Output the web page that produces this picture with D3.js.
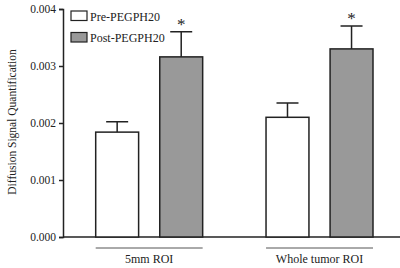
<!DOCTYPE html>
<html>
<head>
<meta charset="utf-8">
<script src="https://cdn.jsdelivr.net/npm/d3@7"></script>
<style>
  body { margin: 0; background: #fff; }
  svg text { font-family: "Liberation Serif", "DejaVu Serif", serif; fill: #222; }
</style>
</head>
<body>
<svg id="drawing_region"></svg>
<script>
const groups = ["5mm ROI", "Whole tumor ROI"];
const seriesNames = ["Pre-PEGPH20", "Post-PEGPH20"];
const preValues = [0.00184, 0.00210];
const preErrors = [0.00018, 0.00025];
const postValues = [0.00316, 0.00330];
const postErrors = [0.00044, 0.00040];
const significant = [true, true];
const yTicks = [0.000, 0.001, 0.002, 0.003, 0.004];

const config = {
    width: 400,
    height: 268,
    margin: {top: 9, right: 0, bottom: 31, left: 63}
};

const svg = d3.select('#drawing_region')
    .attr('width', config.width)
    .attr('height', config.height);

const inner_height = config.height - config.margin.top - config.margin.bottom;

const chart = svg.append('g')
    .attr('transform', `translate(${config.margin.left}, ${config.margin.top})`);

const yscale = d3.scaleLinear()
    .domain([0, 0.004])
    .range([inner_height, 0]);

// group band positions, then series inside each group
const xgroup = d3.scaleBand()
    .domain(groups)
    .range([32.7, 310])
    .paddingInner(0.372)
    .paddingOuter(0);

const xseries = d3.scaleBand()
    .domain(seriesNames)
    .range([0, xgroup.bandwidth()])
    .paddingInner(0.33);

const colors = d3.scaleOrdinal()
    .domain(seriesNames)
    .range(["#ffffff", "#999999"]);

const data = [];
groups.forEach((g, i) => {
    data.push({group: g, series: seriesNames[0], value: preValues[i], err: preErrors[i], star: false});
    data.push({group: g, series: seriesNames[1], value: postValues[i], err: postErrors[i], star: significant[i]});
});

// y axis
const yaxis = d3.axisLeft(yscale)
    .tickValues(yTicks)
    .tickFormat(d3.format('.3f'))
    .tickSize(4)
    .tickPadding(3);

const yaxis_group = chart.append('g').call(yaxis);
yaxis_group.select('.domain').attr('stroke', '#222').attr('stroke-width', 1.5);
yaxis_group.selectAll('.tick line').attr('stroke', '#222').attr('stroke-width', 1.5);
yaxis_group.selectAll('.tick text')
    .style('font-family', '"Liberation Serif", serif')
    .style('font-size', '11.5px')
    .attr('fill', '#333');

// baseline
chart.append('line')
    .attr('x1', 0).attr('x2', config.width - config.margin.left)
    .attr('y1', yscale(0)).attr('y2', yscale(0))
    .attr('stroke', '#222').attr('stroke-width', 1.5);

const bx = d => xgroup(d.group) + xseries(d.series);

// error bars
chart.selectAll('.err')
    .data(data)
    .enter()
    .append('path')
    .attr('class', 'err')
    .attr('d', d => {
        const cx = bx(d) + xseries.bandwidth() / 2;
        const w = 11;
        return `M${cx},${yscale(d.value)}V${yscale(d.value + d.err)}M${cx - w},${yscale(d.value + d.err)}H${cx + w}`;
    })
    .attr('fill', 'none')
    .attr('stroke', '#222')
    .attr('stroke-width', 1.5);

// bars
chart.selectAll('.bar')
    .data(data)
    .enter()
    .append('rect')
    .attr('class', 'bar')
    .attr('x', d => bx(d))
    .attr('y', d => yscale(d.value))
    .attr('width', xseries.bandwidth())
    .attr('height', d => yscale(0) - yscale(d.value))
    .attr('fill', d => colors(d.series))
    .attr('stroke', '#222')
    .attr('stroke-width', 1.5);

// significance stars
chart.selectAll('.star')
    .data(data.filter(d => d.star))
    .enter()
    .append('text')
    .attr('class', 'star')
    .attr('text-anchor', 'middle')
    .attr('x', d => bx(d) + xseries.bandwidth() / 2)
    .attr('y', d => yscale(d.value + d.err) - 2)
    .style('font-size', '17px')
    .text('*');

// group brackets and labels
const bracketY = yscale(0) + 11;
groups.forEach(g => {
    chart.append('line')
        .attr('x1', xgroup(g)).attr('x2', xgroup(g) + xgroup.bandwidth())
        .attr('y1', bracketY).attr('y2', bracketY)
        .attr('stroke', '#555').attr('stroke-width', 1);
    chart.append('text')
        .attr('text-anchor', 'middle')
        .attr('x', xgroup(g) + xgroup.bandwidth() / 2)
        .attr('y', bracketY + 15)
        .style('font-size', '12px')
        .text(g);
});

// y label
svg.append('text')
    .attr('text-anchor', 'middle')
    .attr('transform', `translate(16, ${config.margin.top + inner_height / 2 - 1}) rotate(-90)`)
    .style('font-size', '11.5px')
    .text('Diffusion Signal Quantification');

// legend
const legend = svg.append('g')
    .attr('transform', 'translate(71, 11)');
seriesNames.forEach((s, i) => {
    const item = legend.append('g').attr('transform', `translate(0, ${i * 21.5})`);
    item.append('rect')
        .attr('width', 16).attr('height', 9.5)
        .attr('fill', colors(s))
        .attr('stroke', '#222').attr('stroke-width', 1.2);
    item.append('text')
        .attr('x', 19).attr('y', 9.5)
        .style('font-size', '12px')
        .text(s);
});
</script>
</body>
</html>
